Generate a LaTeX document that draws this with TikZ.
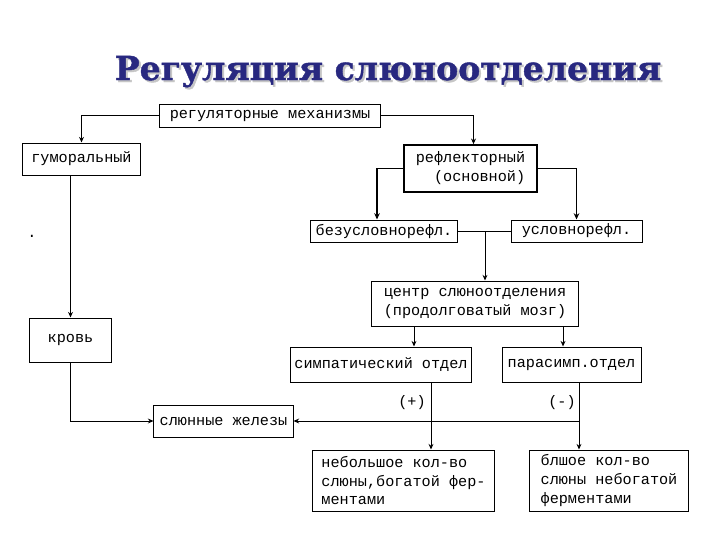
\documentclass[tikz,border=0pt]{standalone}
\usepackage{fontspec}
\usepackage{xcolor}
\usepackage{tikz}
\usetikzlibrary{positioning, calc, arrows.meta}
\newfontfamily\monofont{Liberation Mono}
\newfontfamily\titlefont{DejaVu Serif}[BoldFeatures={FakeBold=1.2}]
\definecolor{titleblue}{RGB}{40,40,128}

\begin{document}
\begin{tikzpicture}[x=0.025cm, y=-0.025cm,
    box/.style={draw, line width=0.7pt, inner sep=0pt, align=left,
        font=\monofont\fontsize{10.8}{13.5}\selectfont},
    lbl/.style={inner sep=0pt, font=\monofont\fontsize{10.8}{13.5}\selectfont},
    link/.style={line width=0.7pt, -{Stealth[length=4pt, width=3.5pt]}},
    thicklink/.style={line width=1.4pt, -{Stealth[length=4.5pt, width=4pt]}}]
    \useasboundingbox (0,0) rectangle (720,540);

    % ---------------- TITLE ----------------
    \node[anchor=base, text=gray!45, font=\titlefont\bfseries\fontsize{23.5}{28}\selectfont] (titleshadow) at (390,82) {Регуляция слюноотделения};
    \node[anchor=base, text=titleblue, font=\titlefont\bfseries\fontsize{23.5}{28}\selectfont] (title) at (388,80) {Регуляция слюноотделения};

    % ---------------- BOXES ----------------
    \node[box, minimum width=5.5cm, minimum height=0.575cm] (reg) at (270,115.5) {регуляторные механизмы};
    \node[box, minimum width=2.925cm, minimum height=0.8cm] (gum) at (81.5,159) {гуморальный};
    \node[box, line width=1.2pt, minimum width=3.325cm, minimum height=1.175cm] (refl) at (470.5,168.5) {рефлекторный\\\phantom{xx}(основной)};
    \node[box, minimum width=3.65cm, minimum height=0.55cm] (bez) at (384,231) {безусловнорефл.};
    \node[box, minimum width=3.275cm, minimum height=0.55cm] (usl) at (576.5,231) {условнорефл.};
    \node[box, minimum width=5.15cm, minimum height=1.125cm] (centr) at (475,303.5) {центр слюноотделения\\(продолговатый мозг)};
    \node[box, minimum width=2.025cm, minimum height=1.1cm] (krov) at (70.5,340) {кровь};
    \node[box, minimum width=4.5cm, minimum height=0.875cm] (simp) at (381,364.5) {симпатический отдел};
    \node[box, minimum width=3.475cm, minimum height=0.875cm] (paras) at (571.5,364.5) {парасимп.отдел};
    \node[box, minimum width=3.475cm, minimum height=0.8cm] (sl) at (223.5,421) {слюнные железы};
    \node[box, minimum width=4.525cm, minimum height=1.525cm] (neb) at (403.5,480.5) {небольшое кол-во\\слюны,богатой фер-\\ментами};
    \node[box, minimum width=3.95cm, minimum height=1.525cm] (bol) at (609,480.5) {блшое кол-во\\слюны небогатой\\ферментами\phantom{xxxxx}};

    % labels
    \node[lbl] (dot) at (32,236) {.};
    \node[lbl] (plus) at (412,403) {(+)};
    \node[lbl] (minus) at (562,403) {(-)};

    % ---------------- CONNECTORS ----------------
    \draw[link] (reg.west) -| (gum.north);
    \draw[link] (reg.east) -| ([xshift=0.075cm]refl.north);
    \draw[thicklink] (refl.west) -| ([xshift=-0.175cm]bez.north);
    \draw[thicklink] (refl.east) -| (usl.north);

    \draw[line width=0.7pt] (bez.east) -- (usl.west);
    \coordinate (jn) at (485,231);
    \draw[link] (jn) -- (jn |- centr.north);

    \draw[link] (gum.south -| krov.north) -- (krov.north);

    \draw[link] ([xshift=-1.525cm]centr.south) -- ([xshift=-1.525cm]centr.south |- simp.north);
    \draw[link] ([xshift=2.2cm]centr.south) -- ([xshift=2.2cm]centr.south |- paras.north);

    \draw[link] ([xshift=0.6875cm]neb.north |- simp.south) -- ([xshift=0.6875cm]neb.north);
    \draw[link] ([xshift=-0.75cm]bol.north |- paras.south) -- ([xshift=-0.75cm]bol.north);

    \coordinate (pp) at ([xshift=-0.75cm]bol.north);
    \draw[link] (sl.east -| pp) -- (sl.east);
    \draw[link] (krov.south) |- (sl.west);
\end{tikzpicture}
\end{document}
